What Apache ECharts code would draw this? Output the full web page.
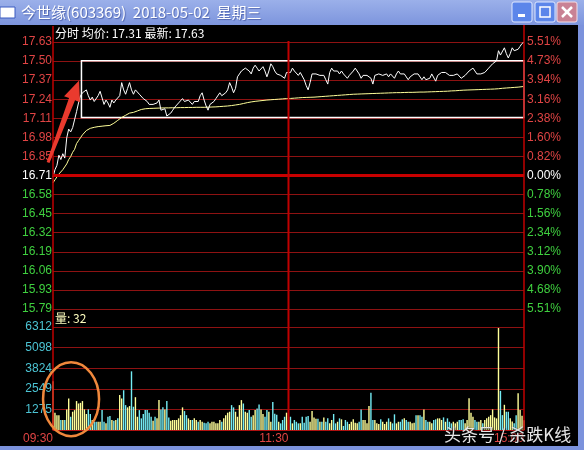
<!DOCTYPE html>
<html><head><meta charset="utf-8">
<script src="https://cdn.jsdelivr.net/npm/echarts@6/dist/echarts.min.js"></script>
<style>html,body{margin:0;padding:0;background:#000;}#c{width:584px;height:450px;}</style>
</head><body><div id="c"></div>
<script>
// ---- data ----
const minutes = 241;
const timeLabels = ['09:30', '11:30', '15:00'];
const priceLabels = ['15.79','15.93','16.06','16.19','16.32','16.45','16.58','16.71','16.85','16.98','17.11','17.24','17.37','17.50','17.63'];
const pctLabels = ['5.51%','4.68%','3.90%','3.12%','2.34%','1.56%','0.78%','0.00%','0.82%','1.60%','2.38%','3.16%','3.94%','4.73%','5.51%'];
const volLabels = ['', '1275', '2549', '3824', '5098', '6312'];
const prevClose = 16.71;
const priceMin = 15.79, priceMax = 17.63;
const volMax = 6373;

const prices = [
16.70,16.75,16.78,16.85,16.82,16.86,16.83,16.97,17.03,17.01,
17.04,17.05,17.15,17.21,17.26,17.28,17.29,17.30,17.26,17.23,
17.25,17.22,17.21,17.26,17.29,17.28,17.20,17.23,17.21,17.18,
17.23,17.21,17.23,17.22,17.26,17.35,17.30,17.27,17.31,17.35,
17.30,17.27,17.30,17.31,17.27,17.26,17.24,17.23,17.22,17.20,
17.19,17.20,17.19,17.21,17.23,17.16,17.15,17.17,17.12,17.11,
17.14,17.16,17.18,17.19,17.21,17.22,17.24,17.22,17.21,17.23,
17.23,17.20,17.22,17.23,17.22,17.26,17.28,17.23,17.19,17.16,
17.20,17.21,17.22,17.24,17.25,17.28,17.26,17.27,17.28,17.30,
17.35,17.32,17.28,17.31,17.39,17.41,17.43,17.42,17.45,17.45,
17.43,17.41,17.45,17.47,17.45,17.43,17.44,17.46,17.43,17.39,
17.43,17.48,17.46,17.43,17.41,17.42,17.40,17.39,17.38,17.42,
17.43,17.42,17.45,17.43,17.42,17.40,17.42,17.41,17.37,17.33,
17.30,17.35,17.41,17.41,17.41,17.40,17.40,17.39,17.40,17.37,
17.34,17.42,17.45,17.43,17.42,17.43,17.41,17.43,17.41,17.40,
17.38,17.40,17.41,17.43,17.45,17.45,17.41,17.38,17.40,17.40,
17.40,17.41,17.38,17.34,17.40,17.41,17.41,17.40,17.40,17.41,
17.41,17.39,17.41,17.40,17.38,17.41,17.43,17.41,17.40,17.41,
17.40,17.37,17.39,17.40,17.41,17.40,17.41,17.40,17.37,17.39,
17.37,17.36,17.38,17.41,17.40,17.36,17.40,17.41,17.42,17.41,
17.42,17.41,17.40,17.39,17.40,17.40,17.41,17.40,17.38,17.37,
17.40,17.41,17.43,17.43,17.45,17.43,17.41,17.41,17.41,17.40,
17.42,17.43,17.45,17.46,17.48,17.49,17.50,17.57,17.54,17.53,
17.59,17.55,17.52,17.55,17.59,17.57,17.56,17.58,17.60,17.62,
17.63
];

const avgPrices = [
16.66,16.68,16.70,16.72,16.73,16.75,16.76,16.79,16.82,16.84,
16.87,16.89,16.93,16.95,16.97,16.99,17.00,17.02,17.03,17.035,
17.04,17.042,17.045,17.047,17.05,17.05,17.052,17.053,17.054,17.055,
17.06,17.07,17.08,17.09,17.10,17.11,17.12,17.125,17.13,17.14,
17.142,17.145,17.15,17.155,17.16,17.165,17.17,17.17,17.172,17.172,
17.173,17.173,17.174,17.174,17.175,17.175,17.175,17.176,17.176,17.176,
17.176,17.177,17.177,17.177,17.177,17.178,17.178,17.178,17.178,17.179,
17.179,17.179,17.179,17.18,17.18,17.18,17.18,17.18,17.181,17.181,
17.181,17.182,17.182,17.183,17.184,17.185,17.186,17.187,17.188,17.189,
17.19,17.192,17.194,17.196,17.198,17.20,17.203,17.206,17.209,17.212,
17.215,17.217,17.219,17.221,17.222,17.224,17.226,17.227,17.229,17.23,
17.231,17.232,17.233,17.234,17.235,17.236,17.237,17.238,17.239,17.24,
17.24,17.241,17.242,17.243,17.244,17.245,17.246,17.247,17.247,17.248,
17.248,17.249,17.249,17.25,17.251,17.252,17.253,17.254,17.255,17.256,
17.257,17.258,17.259,17.26,17.261,17.262,17.263,17.264,17.265,17.266,
17.267,17.268,17.269,17.27,17.27,17.271,17.271,17.272,17.272,17.273,
17.273,17.274,17.274,17.275,17.275,17.276,17.276,17.277,17.277,17.278,
17.278,17.279,17.279,17.28,17.28,17.281,17.281,17.281,17.282,17.282,
17.282,17.283,17.283,17.283,17.284,17.284,17.284,17.285,17.285,17.285,
17.286,17.286,17.287,17.287,17.288,17.288,17.289,17.289,17.29,17.29,
17.291,17.291,17.292,17.293,17.293,17.294,17.295,17.296,17.297,17.298,
17.298,17.299,17.30,17.30,17.301,17.301,17.302,17.302,17.303,17.303,
17.304,17.304,17.305,17.305,17.306,17.306,17.307,17.308,17.31,17.311,
17.312,17.313,17.314,17.315,17.316,17.317,17.318,17.319,17.32,17.322,
17.324
];

const volumes = [
3020,1070,920,920,620,620,620,1275,1950,820,
1130,1230,1790,1640,1680,1790,1275,990,1275,990,
620,510,510,510,510,1230,510,410,820,860,
620,570,620,720,2160,1950,2460,1540,1400,1480,
3630,1440,2030,820,1230,720,990,1230,1230,1070,
820,570,820,720,1850,1275,1400,1275,1790,780,
570,620,620,620,720,920,1400,1170,920,720,
620,620,720,620,510,620,510,450,410,510,
410,510,510,410,410,620,510,720,920,1070,
1130,1540,1400,1130,820,1540,1850,1640,1130,1070,
1230,820,920,1230,1330,1580,1275,990,820,1230,
1130,510,1740,1000,950,510,410,620,820,1070,
620,
820,410,620,510,410,410,820,450,820,860,
510,1170,780,700,700,510,510,780,510,720,
410,620,990,410,510,720,660,250,620,510,
370,510,660,450,410,510,1275,620,620,410,
1480,2300,620,620,410,370,660,510,370,510,
720,510,410,970,410,510,510,660,720,620,
510,510,410,450,920,920,920,820,1275,620,
510,510,410,620,660,720,720,620,780,510,
720,510,410,510,410,510,620,620,660,410,
620,1970,1070,820,620,510,510,620,410,620,
720,820,920,1275,780,720,6312,2420,920,1560,
1130,1130,720,530,410,920,2280,1230,880,600
];

// ---- chart ----
const priceStep = (priceMax - priceMin) / (priceLabels.length - 1);
const volStep = volMax / (volLabels.length - 1);
const RED = '#e04444', GREEN = '#3fd03f', CYAN = '#4cc4d4';
const GRID_LINE = '#8e1212';
const LATIN = 'Liberation Sans, Arial, sans-serif';
const CJK = '"Noto Sans CJK SC", "Liberation Sans", sans-serif';

const chart = echarts.init(document.getElementById('c'), null, {renderer: 'canvas'});

const priceIdx = v => Math.round((v - priceMin) / priceStep);
const volData = volumes.map((v, i) => ({
  value: [i, v],
  itemStyle: {color: (i === 0 || prices[i] >= prices[i - 1]) ? '#ffff99' : '#74ecf4'}
}));

const option = {
  backgroundColor: '#000',
  animation: false,
  grid: [
    {left: 53, right: 60, top: 42, height: 267},
    {left: 53, right: 60, top: 327, bottom: 20}
  ],
  xAxis: [
    {type: 'value', gridIndex: 0, min: 0, max: minutes - 1, interval: 120,
     axisLine: {show: false}, axisTick: {show: false}, axisLabel: {show: false}, splitLine: {show: false}},
    {type: 'value', gridIndex: 1, min: 0, max: minutes - 1, interval: 120,
     axisLine: {show: true, lineStyle: {color: '#b01010', width: 1}},
     axisTick: {show: false}, splitLine: {show: false},
     axisLabel: {show: true, showMinLabel: true, showMaxLabel: true, align: 'right', margin: 3,
       color: RED, fontSize: 12, fontFamily: LATIN,
       formatter: v => timeLabels[Math.round(v / 120)] || ''}}
  ],
  yAxis: [
    {type: 'value', gridIndex: 0, min: priceMin, max: priceMax, interval: priceStep,
     axisLine: {show: false}, axisTick: {show: false},
     splitLine: {show: true, lineStyle: {color: GRID_LINE, width: 1}},
     axisLabel: {margin: 1, fontSize: 12, fontFamily: LATIN,
       formatter: v => priceLabels[priceIdx(v)] || '',
       color: v => { const k = priceIdx(v); return k === 7 ? '#ffffff' : (k > 7 ? RED : GREEN); }}},
    {type: 'value', gridIndex: 0, position: 'right', min: priceMin, max: priceMax, interval: priceStep,
     axisLine: {show: false}, axisTick: {show: false}, splitLine: {show: false},
     axisLabel: {margin: 3, fontSize: 12, fontFamily: LATIN,
       formatter: v => pctLabels[priceIdx(v)] || '',
       color: v => { const k = priceIdx(v); return k === 7 ? '#ffffff' : (k > 7 ? RED : GREEN); }}},
    {type: 'value', gridIndex: 1, min: 0, max: volMax, interval: volStep,
     axisLine: {show: false}, axisTick: {show: false},
     splitLine: {show: true, lineStyle: {color: GRID_LINE, width: 1}},
     axisLabel: {margin: 1, fontSize: 12, fontFamily: LATIN, color: CYAN,
       formatter: v => volLabels[Math.round(v / volStep)] || ''}}
  ],
  series: [
    {type: 'line', name: 'avg', xAxisIndex: 0, yAxisIndex: 0, data: avgPrices.map((v, i) => [i, v]),
     showSymbol: false, lineStyle: {color: '#ffff99', width: 1}, z: 3},
    {type: 'line', name: 'price', xAxisIndex: 0, yAxisIndex: 0, data: prices.map((v, i) => [i, v]),
     showSymbol: false, lineStyle: {color: '#ffffff', width: 1}, z: 4,
     markLine: {silent: true, symbol: 'none', label: {show: false},
       lineStyle: {color: '#c80000', width: 3, type: 'solid'},
       data: [{yAxis: prevClose}]},
     markArea: {silent: true, itemStyle: {color: 'rgba(0,0,0,0)', borderColor: '#ffffff', borderWidth: 1.5},
       data: [[{coord: [14.5, 17.50]}, {coord: [minutes - 1, 17.11]}]]}},
    {type: 'bar', name: 'vol', xAxisIndex: 1, yAxisIndex: 2, data: volData, barWidth: 1.4, z: 3}
  ]
};
chart.setOption(option);

// ---- decorations (window frame, texts, annotations) ----
function px(xa, ya, pt) { return chart.convertToPixel({xAxisIndex: xa, yAxisIndex: ya}, pt); }
const xL = px(0, 0, [0, priceMax])[0];
const xM = px(0, 0, [120, priceMax])[0];
const xR = px(0, 0, [minutes - 1, priceMax])[0];
const yTop = px(0, 0, [0, priceMax])[1];
const yBot = px(1, 2, [0, 0])[1];

// arrow
const tail = px(0, 0, [-2.5, 16.80]);
const tip = px(0, 0, [13.3, 17.365]);
const dx = tip[0] - tail[0], dy = tip[1] - tail[1], L = Math.hypot(dx, dy);
const ux = dx / L, uy = dy / L, nx = -uy, ny = ux;
const hl = 20, hw = 8.5;
const B = [tip[0] - ux * hl, tip[1] - uy * hl];
const arrowPts = [
  [tail[0] + nx * 1.5, tail[1] + ny * 1.5], [B[0] + nx * 3.2, B[1] + ny * 3.2], [B[0] + nx * hw, B[1] + ny * hw],
  tip, [B[0] - nx * hw, B[1] - ny * hw], [B[0] - nx * 3.2, B[1] - ny * 3.2], [tail[0] - nx * 1.5, tail[1] - ny * 1.5]
];
// ellipse
const ec = px(1, 2, [9.2, 1910]);

const vline = (x, y1, w) => ({type: 'line', shape: {x1: x, y1: y1, x2: x, y2: yBot}, style: {stroke: '#c00000', lineWidth: w}, z: 50});

chart.setOption({graphic: [
  // title bar
  {type: 'rect', shape: {x: 0, y: 0, width: 584, height: 25}, z: 40,
   style: {fill: new echarts.graphic.LinearGradient(0, 0, 0, 1, [{offset: 0, color: '#9bb0ea'}, {offset: 1, color: '#7d95dd'}])}},
  {type: 'rect', shape: {x: 0, y: 7, width: 15, height: 11}, style: {fill: '#ffffff', stroke: '#3a5bc0', lineWidth: 1}, z: 41},
  {type: 'text', x: 21, y: 12, z: 41, style: {text: '今世缘(603369)  2018-05-02  星期三', fill: '#ffffff', font: '15px ' + CJK, verticalAlign: 'middle',
     textShadowColor: 'rgba(40,60,140,0.6)', textShadowBlur: 1, textShadowOffsetX: 1, textShadowOffsetY: 1}},
  // window buttons
  {type: 'rect', shape: {x: 512, y: 2, width: 20, height: 20, r: 2}, style: {fill: '#5c86ea', stroke: '#dfe8ff', lineWidth: 1}, z: 41},
  {type: 'rect', shape: {x: 518, y: 14, width: 7, height: 3}, style: {fill: '#ffffff'}, z: 42},
  {type: 'rect', shape: {x: 535, y: 2, width: 20, height: 20, r: 2}, style: {fill: '#5c86ea', stroke: '#dfe8ff', lineWidth: 1}, z: 41},
  {type: 'rect', shape: {x: 540, y: 7, width: 10, height: 10}, style: {fill: 'none', stroke: '#ffffff', lineWidth: 1.5}, z: 42},
  {type: 'rect', shape: {x: 557, y: 2, width: 20, height: 20, r: 2}, style: {fill: '#c98294', stroke: '#f4dde3', lineWidth: 1}, z: 41},
  {type: 'line', shape: {x1: 562, y1: 7, x2: 572, y2: 17}, style: {stroke: '#ffffff', lineWidth: 2.5}, z: 42},
  {type: 'line', shape: {x1: 572, y1: 7, x2: 562, y2: 17}, style: {stroke: '#ffffff', lineWidth: 2.5}, z: 42},
  // frame
  {type: 'rect', shape: {x: 578, y: 25, width: 6, height: 425}, style: {fill: '#7b92dc'}, z: 40},
  {type: 'rect', shape: {x: 0, y: 446, width: 584, height: 4}, style: {fill: '#7b92dc'}, z: 40},
  // vertical separators
  vline(xL, 26, 1.5), vline(xR, 25, 1.5), vline(xM, yTop - 1, 2),
  // header texts
  {type: 'text', x: xL + 2, y: 33, z: 45, style: {text: '分时 均价: 17.31 最新: 17.63', fill: '#ffffff', font: '12px ' + CJK, verticalAlign: 'middle'}},
  {type: 'text', x: xL + 2, y: 318, z: 45, style: {text: '量: 32', fill: '#ffffc0', font: '12px ' + CJK, verticalAlign: 'middle'}},
  // arrow annotation
  {type: 'polygon', shape: {points: arrowPts}, style: {fill: '#ea3a2e'}, z: 60},
  // ellipse annotation
  {type: 'ellipse', shape: {cx: ec[0], cy: ec[1], rx: 28, ry: 37}, style: {fill: 'none', stroke: '#f0883c', lineWidth: 2.5}, z: 60},
  // watermark
  {type: 'text', x: 444, y: 435, z: 70, style: {text: '头条号 / 杀跌K线', fill: '#e6e6e6', font: '17px ' + CJK, verticalAlign: 'middle',
     textShadowColor: 'rgba(0,0,0,0.9)', textShadowBlur: 2, textShadowOffsetX: 1, textShadowOffsetY: 1}}
]});
</script>
</body></html>
